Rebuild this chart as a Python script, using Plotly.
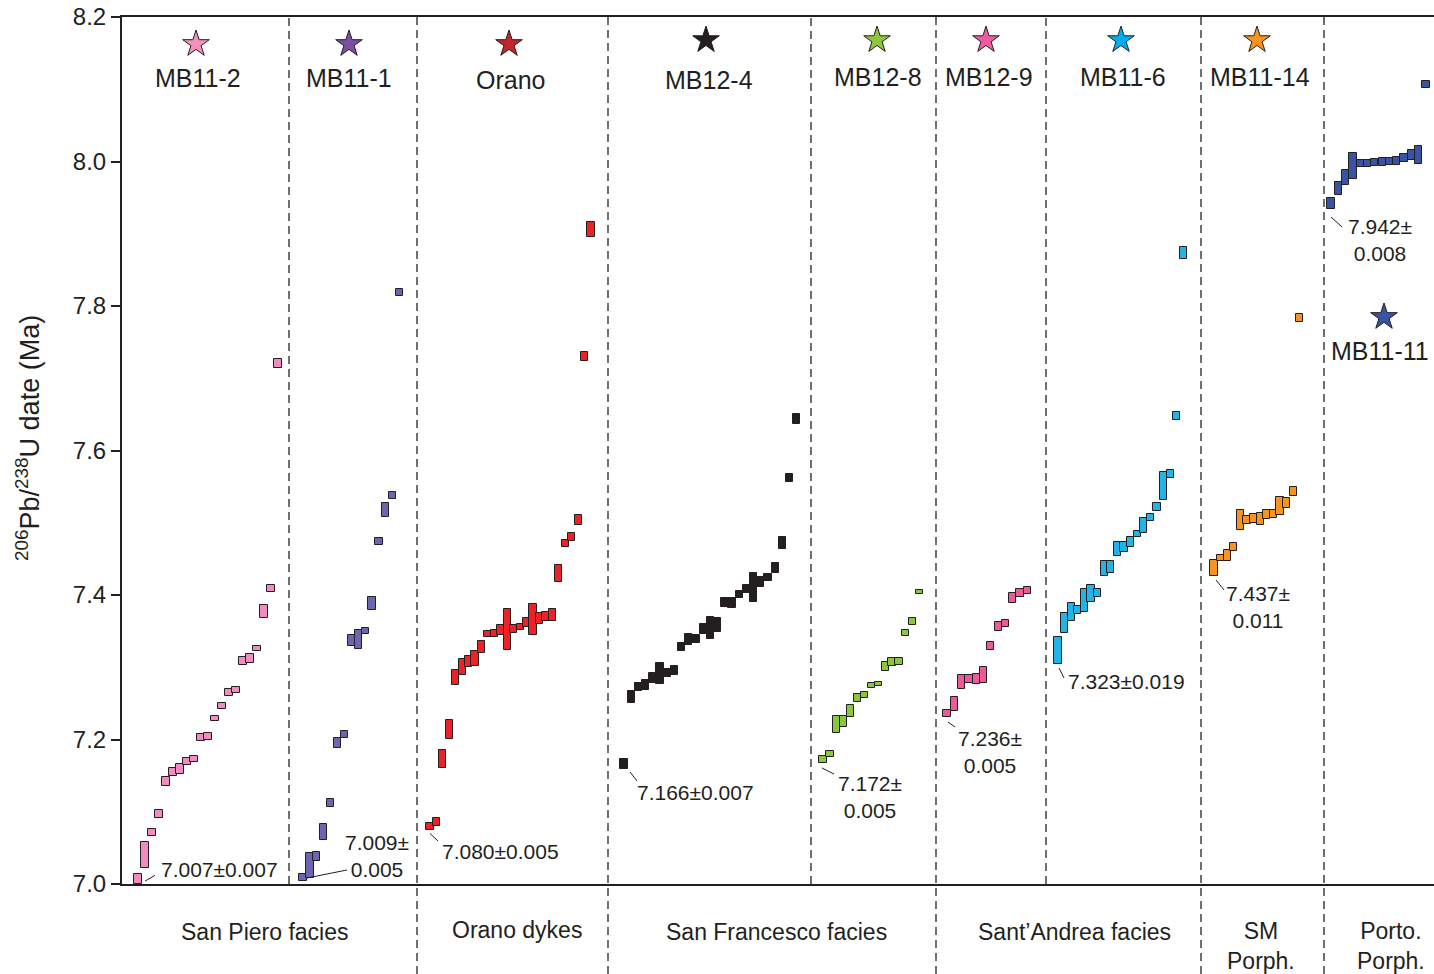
import plotly.graph_objects as go

# ---------------------------------------------------------------------------
# Single-zircon 206Pb/238U dates (Ma) and 2-sigma half-widths, ranked by age
# ---------------------------------------------------------------------------
samples = ["MB11-2", "MB11-1", "Orano", "MB12-4", "MB12-8",
           "MB12-9", "MB11-6", "MB11-14", "MB11-11"]

mb11_2_age = [7.007, 7.040, 7.071, 7.097, 7.142, 7.155, 7.159, 7.170, 7.173, 7.203, 7.204,
              7.229, 7.246, 7.265, 7.269, 7.309, 7.312, 7.326, 7.377, 7.409, 7.720]
mb11_2_err = [0.007, 0.018, 0.005, 0.0054, 0.0063, 0.005, 0.0066, 0.005, 0.0044, 0.0044, 0.005,
              0.004, 0.0041, 0.0049, 0.0041, 0.0054, 0.006, 0.004, 0.0085, 0.0044, 0.006]

mb11_1_age = [7.009, 7.026, 7.038, 7.072, 7.112, 7.195, 7.207, 7.337, 7.338, 7.350,
              7.388, 7.474, 7.518, 7.538, 7.819]
mb11_1_err = [0.005, 0.0175, 0.006, 0.011, 0.0054, 0.0068, 0.0048, 0.0075, 0.013, 0.0046,
              0.0089, 0.0048, 0.010, 0.0048, 0.0045]

orano_age = [7.080, 7.086, 7.173, 7.214, 7.286, 7.300, 7.308, 7.312, 7.328, 7.346, 7.347,
             7.351, 7.352, 7.353, 7.356, 7.362, 7.366, 7.3675, 7.370, 7.372, 7.430, 7.471,
             7.480, 7.504, 7.730, 7.906]
orano_err = [0.005, 0.006, 0.013, 0.0135, 0.0105, 0.011, 0.0072, 0.0105, 0.008, 0.0048, 0.0048,
             0.0069, 0.0285, 0.006, 0.0042, 0.0057, 0.021, 0.008, 0.0066, 0.008, 0.0117, 0.005,
             0.0054, 0.007, 0.0057, 0.0099]

mb12_4_age = [7.166, 7.259, 7.273, 7.276, 7.2855, 7.291, 7.2916, 7.2953, 7.328, 7.338, 7.3387,
              7.353, 7.3547, 7.358, 7.389, 7.389, 7.4004, 7.408, 7.4106, 7.418, 7.424, 7.438,
              7.472, 7.562, 7.6436]
mb12_4_err = [0.007, 0.0078, 0.0058, 0.0069, 0.0069, 0.0143, 0.0055, 0.0058, 0.005, 0.0074, 0.0053,
              0.0069, 0.0155, 0.0097, 0.0062, 0.0072, 0.005, 0.0058, 0.0196, 0.0076, 0.0053, 0.0069,
              0.0088, 0.0053, 0.0072]

mb12_8_age = [7.172, 7.180, 7.221, 7.225, 7.239, 7.257, 7.2616, 7.275, 7.277, 7.3008, 7.3073,
              7.308, 7.347, 7.363, 7.404]
mb12_8_err = [0.005, 0.0037, 0.0122, 0.008, 0.0085, 0.0053, 0.004, 0.0032, 0.0032, 0.006, 0.0062,
              0.0053, 0.0041, 0.0046, 0.0028]

mb12_9_age = [7.236, 7.249, 7.2796, 7.2833, 7.2837, 7.2889, 7.3294, 7.3566, 7.3608, 7.3958,
              7.403, 7.406]
mb12_9_err = [0.005, 0.0095, 0.0097, 0.0055, 0.0069, 0.011, 0.0055, 0.0058, 0.0044, 0.0074,
              0.0055, 0.0046]

mb11_6_age = [7.323, 7.3608, 7.3765, 7.3792, 7.392, 7.4018, 7.4023, 7.437, 7.4388, 7.4632,
              7.466, 7.473, 7.4844, 7.496, 7.507, 7.5218, 7.5513, 7.5675, 7.6477, 7.873]
mb11_6_err = [0.019, 0.0138, 0.012, 0.0055, 0.016, 0.0118, 0.0055, 0.0102, 0.0085, 0.0099,
              0.0069, 0.0067, 0.0048, 0.0104, 0.0046, 0.005, 0.0196, 0.0058, 0.0053, 0.0083]

mb11_14_age = [7.437, 7.451, 7.4545, 7.4667, 7.5035, 7.504, 7.5056, 7.5056, 7.5117, 7.512,
               7.5234, 7.527, 7.5428, 7.7834]
mb11_14_err = [0.011, 0.0046, 0.0077, 0.0056, 0.014, 0.0059, 0.0066, 0.0084, 0.0059, 0.005,
               0.012, 0.0069, 0.0061, 0.0056]

mb11_11_age = [7.942, 7.9633, 7.9775, 7.9938, 7.9974, 7.9974, 7.9985, 7.9995, 8.000, 8.001,
               8.005, 8.009, 8.009, 8.107]
mb11_11_err = [0.008, 0.009, 0.0107, 0.018, 0.0051, 0.005, 0.005, 0.0054, 0.0054, 0.0059,
               0.0051, 0.0064, 0.0125, 0.0051]

# Youngest-zircon date labels (value, uncertainty) per sample
youngest_date = [7.007, 7.009, 7.080, 7.166, 7.172, 7.236, 7.323, 7.437, 7.942]
youngest_err = [0.007, 0.005, 0.005, 0.007, 0.005, 0.005, 0.019, 0.011, 0.008]

facies = ["San Piero facies", "Orano dykes", "San Francesco facies",
          "Sant\u2019Andrea facies", "SM<br>Porph.", "Porto.<br>Porph."]

y_ticks = [7.0, 7.2, 7.4, 7.6, 7.8, 8.0, 8.2]

ages = [mb11_2_age, mb11_1_age, orano_age, mb12_4_age, mb12_8_age,
        mb12_9_age, mb11_6_age, mb11_14_age, mb11_11_age]
errs = [mb11_2_err, mb11_1_err, orano_err, mb12_4_err, mb12_8_err,
        mb12_9_err, mb11_6_err, mb11_14_err, mb11_11_err]

# ---------------------------------------------------------------------------
# Styling / layout (x axis runs in screen-like units across the figure)
# ---------------------------------------------------------------------------
FONT = "Arial, Liberation Sans, Helvetica, sans-serif"
INK = "#231F20"
box_colors = ["#F08CBE", "#6A66B2", "#EC2227", "#231F20", "#8CC63F",
              "#EC5A98", "#22B4E8", "#F7931E", "#3A53A4"]
star_colors = ["#F48FBF", "#7B4F9F", "#C4242B", "#231F20", "#8DC63F",
               "#EF5BA1", "#00AEEF", "#F7941D", "#3A53A4"]

# column layout: first box centre and spacing between ranked boxes
col_start = [138, 303, 430, 624, 823, 947, 1058, 1214, 1331]
col_step = [7.0, 6.9, 6.44, 7.2, 6.9, 7.3, 6.6, 6.6, 7.3]
box_w = 7.2

# header star + name positions (x, star y, name y)
head_x = [196, 349, 509, 706, 877, 986, 1121, 1257, 1384]
star_y = [8.1626, 8.1626, 8.1626, 8.168, 8.168, 8.168, 8.168, 8.168, 7.7848]
name_x = [198, 349, 510, 709, 878, 989, 1123, 1260, 1380]
name_y = [8.1156, 8.1156, 8.1128, 8.1128, 8.117, 8.117, 8.117, 8.117, 7.7377]

# date labels: leader line (x0, y0, x1, y1) and text anchor
lead = [(145, 7.004, 155, 7.012), (307, 7.0083, 347, 7.0194), (430, 7.0699, 438, 7.0595),
        (630, 7.155, 637, 7.1426), (822, 7.1606, 834, 7.1522), (948, 7.2242, 955, 7.2173),
        (1059, 7.299, 1064, 7.2851), (1216, 7.4208, 1224, 7.4069), (1331, 7.9232, 1342, 7.9094)]
lab_pos = [(159, 7.0194, "left", False), (377, 7.0394, "center", True),
           (440, 7.0443, "left", False), (635, 7.1273, "left", False),
           (870, 7.1211, "center", True), (990, 7.1827, "center", True),
           (1066, 7.2796, "left", False), (1258, 7.3834, "center", True),
           (1380, 7.8907, "center", True)]

sep_upper = [289, 811, 1046]
sep_full = [417, 608, 936, 1201, 1324]
facies_x = [264, 517, 776, 1074, 1261, 1391]
facies_y = [-0.0554, -0.053, -0.0554, -0.0554, -0.0718, -0.0718]

X0, X1 = 122, 1434
Y0, Y1 = 7.0, 8.2
PLOT_H = 867
BOTTOM = 90

fig = go.Figure()

for i, name in enumerate(samples):
    n = len(ages[i])
    xs = [col_start[i] + k * col_step[i] for k in range(n)]
    fig.add_trace(go.Bar(
        x=xs,
        y=[2 * e for e in errs[i]],
        base=[a - e for a, e in zip(ages[i], errs[i])],
        width=box_w,
        marker=dict(color=box_colors[i], line=dict(color=INK, width=1)),
        name=name,
        showlegend=False,
        hovertemplate=name + ": %{customdata:.3f} Ma<extra></extra>",
        customdata=ages[i],
    ))

# header stars
fig.add_trace(go.Scatter(
    x=head_x, y=star_y, mode="markers",
    marker=dict(symbol="star", size=20, color=star_colors,
                line=dict(color=INK, width=1)),
    showlegend=False, hoverinfo="skip", cliponaxis=False,
))

annotations = []
for i, name in enumerate(samples):
    annotations.append(dict(
        x=name_x[i], y=name_y[i], xref="x", yref="y", text=name, showarrow=False,
        font=dict(family=FONT, size=25, color=INK), xanchor="center", yanchor="middle",
    ))
    val, err = youngest_date[i], youngest_err[i]
    x, y, anchor, two_line = lab_pos[i]
    sep = "<br>" if two_line else ""
    txt = f"{val:.3f}\u00b1{sep}{err:.3f}"
    annotations.append(dict(
        x=x, y=y, xref="x", yref="y", text=txt, showarrow=False,
        font=dict(family=FONT, size=21, color=INK), xanchor=anchor, yanchor="middle",
        align="center",
    ))

for j, lab in enumerate(facies):
    annotations.append(dict(
        x=facies_x[j], y=facies_y[j], xref="x", yref="paper", text=lab, showarrow=False,
        font=dict(family=FONT, size=23, color=INK), xanchor="center", yanchor="middle",
        align="center",
    ))

# y-axis title
annotations.append(dict(
    x=-(122 - 28) / (X1 - X0), y=(884 - 438) / PLOT_H, xref="paper", yref="paper",
    text="<sup>206</sup>Pb/<sup>238</sup>U date (Ma)", textangle=-90, showarrow=False,
    font=dict(family=FONT, size=27, color=INK), xanchor="center", yanchor="middle",
))

shapes = []
for x in sep_upper:
    shapes.append(dict(type="line", xref="x", yref="paper", x0=x, x1=x, y0=0, y1=1,
                       line=dict(color="#111111", width=1.2, dash="8px,5px"), layer="below"))
for x in sep_full:
    shapes.append(dict(type="line", xref="x", yref="paper", x0=x, x1=x,
                       y0=-BOTTOM / PLOT_H, y1=1,
                       line=dict(color="#111111", width=1.2, dash="8px,5px"), layer="below"))
for (xa, ya, xb, yb) in lead:
    shapes.append(dict(type="line", xref="x", yref="y", x0=xa, y0=ya, x1=xb, y1=yb,
                       line=dict(color=INK, width=1)))

fig.update_layout(
    width=1434, height=974,
    margin=dict(l=122, r=0, t=17, b=BOTTOM, pad=0),
    paper_bgcolor="white", plot_bgcolor="white",
    barmode="overlay", bargap=0,
    showlegend=False,
    annotations=annotations,
    shapes=shapes,
    xaxis=dict(range=[X0, X1], showticklabels=False, ticks="", showgrid=False,
               zeroline=False, showline=True, linecolor=INK, linewidth=2, mirror=True,
               fixedrange=True),
    yaxis=dict(range=[Y0, Y1], tickvals=y_ticks, tickformat=".1f", ticks="outside",
               ticklen=9, tickwidth=1.5, tickcolor=INK, showgrid=False, zeroline=False,
               showline=True, linecolor=INK, linewidth=2, mirror=False,
               tickfont=dict(family=FONT, size=24, color=INK), ticklabelstandoff=0,
               fixedrange=True),
)

fig.write_html("out.html")
